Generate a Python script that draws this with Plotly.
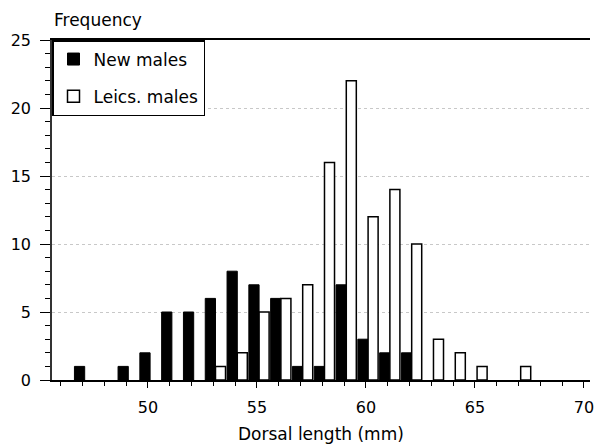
import plotly.graph_objects as go

new_x = [47, 49, 50, 51, 52, 53, 54, 55, 56, 57, 58, 59, 60, 61, 62]
new_y = [1, 1, 2, 5, 5, 6, 8, 7, 6, 1, 1, 7, 3, 2, 2]
leics_x = [53, 54, 55, 56, 57, 58, 59, 60, 61, 62, 63, 64, 65, 67]
leics_y = [1, 2, 5, 6, 7, 16, 22, 12, 14, 10, 3, 2, 1, 1]

FONT = "DejaVu Sans"

fig = go.Figure()
fig.add_trace(go.Bar(
    x=new_x, y=new_y, name="New males",
    marker=dict(color="black", line=dict(color="black", width=1)),
    offset=-0.37, width=0.47, legendgroup="a",
))
fig.add_trace(go.Bar(
    x=leics_x, y=leics_y, name="Leics. males",
    marker=dict(color="white", line=dict(color="black", width=1.5)),
    offset=0.10, width=0.46, legendgroup="b",
))

fig.update_layout(
    width=596, height=446,
    margin=dict(l=52, r=6, t=40, b=66, autoexpand=False),
    paper_bgcolor="white", plot_bgcolor="white",
    barmode="overlay",
    font=dict(family=FONT, size=16, color="black"),
    showlegend=True,
    legend=dict(
        x=0, y=1, xanchor="left", yanchor="top",
        bordercolor="black", borderwidth=1.5, bgcolor="white",
        font=dict(family=FONT, size=17, color="black"),
        traceorder="grouped", tracegroupgap=12,
    ),
    xaxis=dict(
        range=[45.6, 70.28],
        tickmode="linear", tick0=50, dtick=5,
        ticks="outside", ticklen=6, tickwidth=1, tickcolor="black",
        minor=dict(dtick=1, tick0=50, ticks="outside", ticklen=4, tickcolor="black", showgrid=False),
        showline=True, linecolor="black", linewidth=1.5, mirror=True,
        showgrid=False, zeroline=False, automargin=False,
        ticklabelstandoff=6,
    ),
    yaxis=dict(
        range=[0, 25],
        tickmode="linear", tick0=0, dtick=5,
        ticks="outside", ticklen=10, tickwidth=1, tickcolor="black",
        minor=dict(dtick=1, tick0=0, ticks="outside", ticklen=5, tickcolor="black", showgrid=False),
        showline=True, linecolor="#333333", linewidth=1.5,
        showgrid=True, gridcolor="#c8c8c8", gridwidth=1, griddash="dot",
        zeroline=False, automargin=False,
        ticklabelstandoff=6,
    ),
    annotations=[
        dict(
            text="Frequency", xref="paper", yref="paper", x=0, y=1,
            xanchor="left", yanchor="middle", yshift=20, showarrow=False,
            font=dict(family=FONT, size=17, color="black"),
        ),
        dict(
            text="Dorsal length (mm)", xref="paper", yref="paper", x=0.5, y=0,
            xanchor="center", yanchor="middle", yshift=-54, showarrow=False,
            font=dict(family=FONT, size=17, color="black"),
        ),
    ],
)

fig.write_html(
    "out.html",
    config={"displayModeBar": False},
    post_script="document.body.style.margin='0';document.body.style.overflow='hidden';",
)
